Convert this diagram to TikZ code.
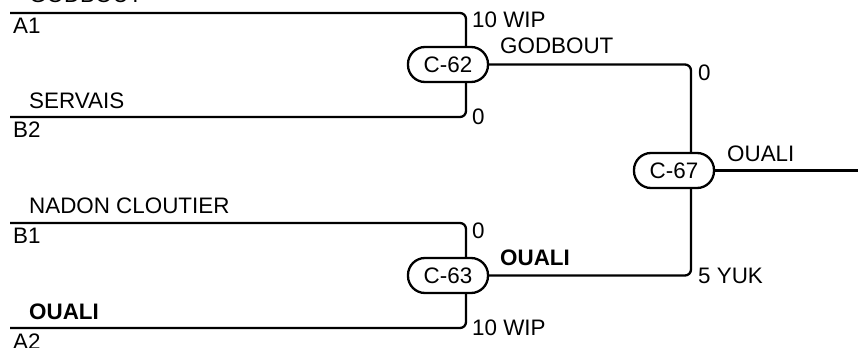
\documentclass[tikz,border=0pt]{standalone}
\usepackage{fontspec}
\setmainfont{Liberation Sans}
\usetikzlibrary{calc}
\newcommand{\fsz}{\fontsize{11.2}{13}\selectfont}
\begin{document}
\begin{tikzpicture}[x=0.5pt,y=-0.5pt, line width=1.15pt,
  proc/.style={draw, fill=white, rounded corners=8.5pt, minimum width=40pt, minimum height=17.5pt, inner sep=0pt, font=\fsz},
  lbl/.style={anchor=base west, inner sep=0pt, font=\fsz},
  blbl/.style={lbl, font=\fsz\bfseries},
  wire/.style={rounded corners=3pt}]
\useasboundingbox (0,0) rectangle (858,348);
% nodes
\node[proc] (c62) at (448,64.5) {C-62};
\node[proc] (c63) at (448,275.5) {C-63};
\node[proc] (c67) at (674,170.5) {C-67};
% free ends
\coordinate (a1) at (10,13);
\coordinate (b2) at (10,117);
\coordinate (b1) at (10,223);
\coordinate (a2) at (10,328);
\coordinate (out) at (858,170.5);
% wires
\draw[wire] (a1) -| ($(c62.north)+(18,0)$);
\draw[wire] (b2) -| ($(c62.south)+(18,0)$);
\draw[wire] (b1) -| ($(c63.north)+(18,0)$);
\draw[wire] (a2) -| ($(c63.south)+(18,0)$);
\draw[wire] ($(c62.east)+(-2,0)$) -| ($(c67.north)+(17,0)$);
\draw[wire] ($(c63.east)+(-2,0)$) -| ($(c67.south)+(17,0)$);
\draw ($(c67.east)+(-2,0)$) -- (out);
% labels
\node[lbl] (t1) at (28,3) {GODBOUT};
\node[lbl] (t2) at (12,33) {A1};
\node[lbl] (t3) at (471,27) {10 WIP};
\node[lbl] (t4) at (28,108) {SERVAIS};
\node[lbl] (t5) at (12,137) {B2};
\node[lbl] (t6) at (471,124) {0};
\node[lbl] (t7) at (499,54) {GODBOUT};
\node[lbl] (t8) at (697,80) {0};
\node[lbl] (t9) at (726,161) {OUALI};
\node[lbl] (t10) at (28,213) {NADON CLOUTIER};
\node[lbl] (t11) at (12,243) {B1};
\node[lbl] (t12) at (471,238) {0};
\node[blbl] (t13) at (499,265) {OUALI};
\node[lbl] (t14) at (471,335) {10 WIP};
\node[blbl] (t15) at (28,319) {OUALI};
\node[lbl] (t16) at (12,349) {A2};
\node[lbl] (t17) at (697,283) {5 YUK};
\end{tikzpicture}
\end{document}
